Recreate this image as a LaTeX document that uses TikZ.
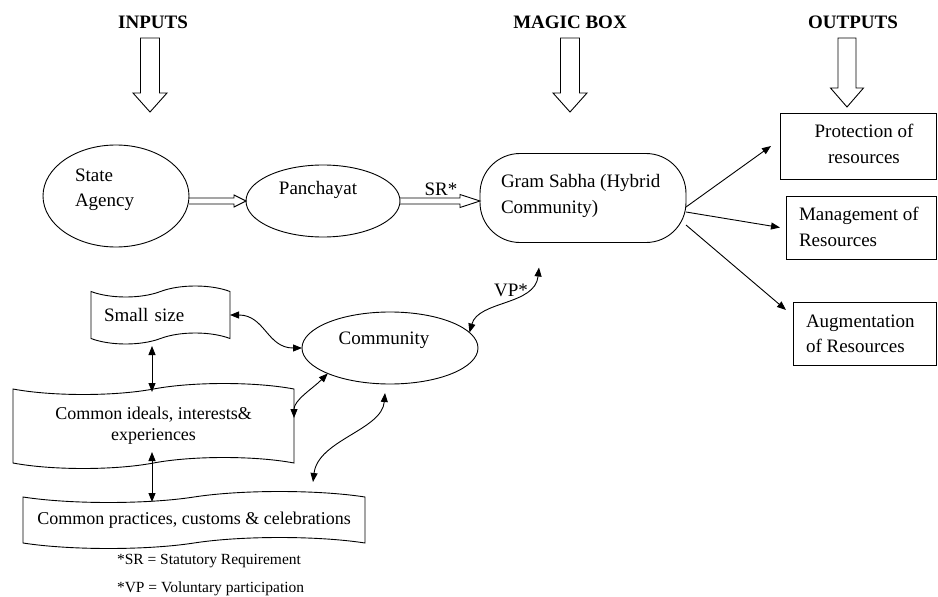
\documentclass[tikz,border=0pt]{standalone}
\usepackage{fontspec}
\setmainfont{Liberation Serif}
\usetikzlibrary{shapes.geometric,shapes.symbols,arrows.meta,calc}
\begin{document}
\begin{tikzpicture}[x=1pt,y=-1pt,
  every node/.style={inner sep=0pt, outer sep=0pt},
  txt/.style={font=\fontsize{19}{25.5}\selectfont, align=left},
  tapetxt/.style={font=\fontsize{18}{21}\selectfont, align=center},
  hdr/.style={font=\fontsize{19}{22}\selectfont\bfseries},
  foot/.style={font=\fontsize{15.5}{18}\selectfont, anchor=west},
  ell/.style={draw, ellipse, line width=0.9pt},
  outbox/.style={draw, rectangle, line width=0.9pt, anchor=north west},
  banner/.style={draw, tape, tape bend height=11pt, line width=0.9pt},
  hollow/.style={draw, line width=0.9pt, fill=white, line join=miter},
  hollowline/.style={draw, line width=0.9pt, line join=miter},
  link/.style={line width=0.9pt, -{Triangle[length=9pt,width=7pt]}},
  dlink/.style={line width=0.9pt, {Triangle[length=9pt,width=7pt]}-{Triangle[length=9pt,width=7pt]}},
]
\useasboundingbox (0,0) rectangle (938,597);

% headers
\node[hdr] (hin) at (153,22) {INPUTS};
\node[hdr] (hmb) at (570,22) {MAGIC BOX};
\node[hdr] (hout) at (853,22) {OUTPUTS};

% hollow down arrows
\draw[hollow] (140.5,38) -- (159.5,38) -- (159.5,93) -- (167,93) -- (150,112) -- (133,93) -- (140.5,93) -- cycle;
\draw[hollow] (560.5,38) -- (579.5,38) -- (579.5,93) -- (587,93) -- (570,112) -- (553,93) -- (560.5,93) -- cycle;
\draw[hollow] (838,38) -- (856,38) -- (856,88) -- (863.5,88) -- (847,107) -- (830.5,88) -- (838,88) -- cycle;

% top row
\node[ell, minimum width=146, minimum height=102] (sa) at (116,196) {};
\node[txt, anchor=west] (satxt) at (75,190) {State\\Agency};
\node[ell, minimum width=154, minimum height=72] (pan) at (323,201) {};
\node[txt] (pantxt) at (318,190) {Panchayat};
\node[draw, rounded corners=40pt, minimum width=206, minimum height=89, line width=0.9pt] (gs) at (583,198) {};
\node[txt, anchor=west] (gstxt) at (501,196) {Gram Sabha (Hybrid\\Community)};
\node[txt] (sr) at (441,189) {SR*};

% outputs
\node[outbox, minimum width=156, minimum height=66] (p1) at (780,113) {};
\node[txt, align=center] (p1txt) at (864,144) {Protection of\\resources};
\node[outbox, minimum width=150, minimum height=63] (mg) at (786,196) {};
\node[txt, anchor=west] (mgtxt) at (799,227) {Management of\\Resources};
\node[outbox, minimum width=143, minimum height=63] (au) at (793,302) {};
\node[txt, anchor=west] (autxt) at (806,334) {Augmentation\\of Resources};

% community and banners
\node[ell, minimum width=176, minimum height=72] (com) at (390,348) {};
\node[txt] (comtxt) at (384,340) {Community};
\node[banner, minimum height=58, inner xsep=13pt, text width=113pt, align=left, font=\fontsize{19}{22}\selectfont] (ss) at (160.5,315) {Small size};
\node[banner, tapetxt, minimum width=281, minimum height=85] (ci) at (153.5,426) {Common ideals, interests\&\\experiences};
\node[banner, tapetxt, minimum width=342, minimum height=57] (cp) at (194,520) {Common practices, customs \& celebrations};

\node[foot] (f1) at (117,561) {*SR = Statutory Requirement};
\node[foot] (f2) at (117,589) {*VP = Voluntary participation};

% hollow horizontal arrows
\draw[hollowline] let \p1=(sa.east), \p2=(pan.west) in
  (\x1,\y2+3pt) -- (\x2-12pt,\y2+3pt) -- (\x2-12pt,\y2+6pt) -- (\x2,\y2) -- (\x2-12pt,\y2-6pt) -- (\x2-12pt,\y2-3pt) -- (\x1,\y2-3pt);
\draw[hollowline] let \p1=(pan.east), \p2=(gs.west) in
  (\x1,\y1+3pt) -- (\x2-20pt,\y1+3pt) -- (\x2-20pt,\y1+6.5pt) -- (\x2,\y1) -- (\x2-20pt,\y1-6.5pt) -- (\x2-20pt,\y1-3pt) -- (\x1,\y1-3pt);

% output arrows
\draw[link] ([yshift=-9pt]gs.east) -- ([xshift=-9pt]p1.west);
\draw[link] ([yshift=-14pt]gs.east) -- ([xshift=-6pt]mg.west);
\draw[link] ([yshift=-27pt]gs.east) -- ($(au.north west)+(-7,8)$);

% left connectors
\draw[dlink] (ss.east) .. controls +(35,0) and +(-35,0) .. (com.west);
\draw[dlink] ($(ss.center)+(-8.5,31)$) -- ($(ci.center)+(-1.5,-34)$);
\draw[dlink] ($(ci.center)+(-1.5,26)$) -- ($(cp.center)+(-42,-18)$);
\draw[dlink] ([yshift=8pt]ci.east) .. controls +(0,-18) and +(-15,15) .. (com.south west);
\draw[dlink] ($(com.south)+(-5,9)$) .. controls +(-3,37) and +(5,-42) .. ($(cp.center)+(119,-38)$);

% VP
\draw[dlink] (com.11) .. controls +(9,-32) and +(-4,38) .. ($(gs.south)+(-44,25)$);
\node[txt] (vp) at (511,290) {VP*};
\end{tikzpicture}
\end{document}
